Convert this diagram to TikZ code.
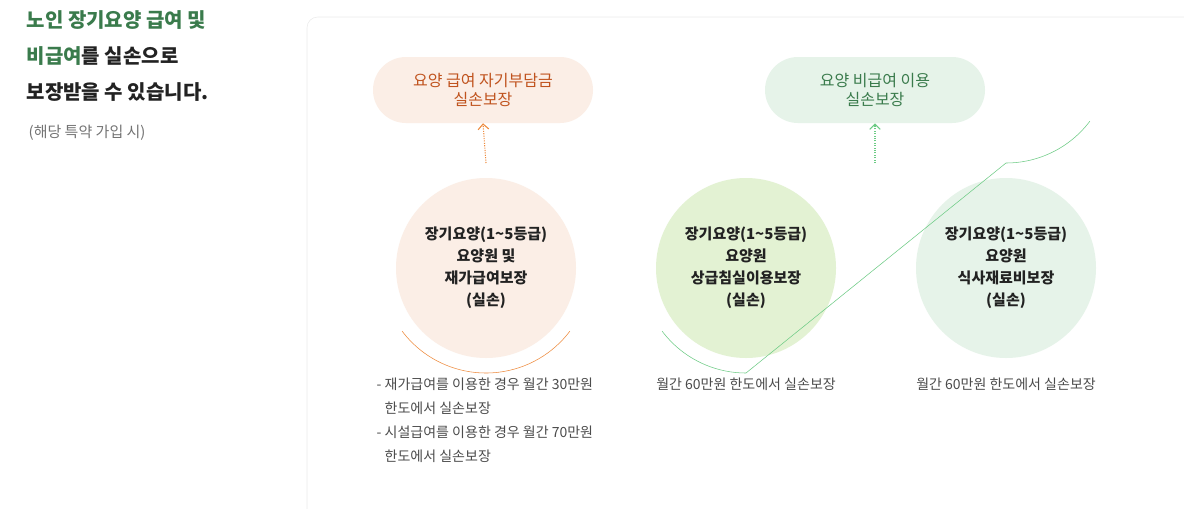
\documentclass[tikz,border=0pt]{standalone}
\usepackage{fontspec}
\setmainfont{Noto Sans CJK KR}
\usetikzlibrary{positioning, arrows.meta, calc}
\definecolor{warmfill}{HTML}{FBEEE6}
\definecolor{warmtext}{HTML}{C0531E}
\definecolor{warmline}{HTML}{EE8A3C}
\definecolor{leaffill}{HTML}{E3F2D3}
\definecolor{mintfill}{HTML}{E6F3E9}
\definecolor{mintline}{HTML}{6CCB84}
\definecolor{titlegreen}{HTML}{3A7B4C}
\definecolor{inktext}{HTML}{222222}

\begin{document}
\begin{tikzpicture}[
    x=0.75pt, y=-0.75pt,
    % Styles
    pill/.style={rounded corners=24.75pt, minimum width=165pt, minimum height=49.5pt, align=center, font=\fontsize{12}{14.5}\selectfont},
    coverage/.style={circle, minimum size=135pt, align=center, text=inktext, font=\bfseries\fontsize{11.25}{16.5}\selectfont},
    note/.style={font=\fontsize{10.5}{18}\selectfont, text=black!70},
    uparrow/.style={densely dotted, thick, -{Straight Barb[length=4pt, width=8pt]}},
]

\useasboundingbox (0,0) rectangle (1184,508);

% Heading
\node[anchor=north west, align=left, font=\bfseries\fontsize{15}{27}\selectfont, text=inktext] (title) at (22,6)
  {\textcolor{titlegreen}{노인 장기요양 급여 및}\\\textcolor{titlegreen}{비급여}를 실손으로\\보장받을 수 있습니다.};
\node[anchor=north west, font=\fontsize{11.25}{14}\selectfont, text=black!55] (sub) at (24,120) {(해당 특약 가입 시)};

% Panel
\draw[black!8, fill=white, rounded corners=8pt] (307,17) rectangle (1200,520);

% Top boxes
\node[pill, fill=warmfill, text=warmtext] (own) at (483,90) {요양 급여 자기부담금\\실손보장};
\node[pill, fill=mintfill, text=titlegreen] (non) at (875,90) {요양 비급여 이용\\실손보장};

% Circles
\node[coverage, fill=warmfill] (home) at (486,268) {장기요양(1\textasciitilde5등급)\\요양원 및\\재가급여보장\\(실손)};
\node[coverage, fill=leaffill] (room) at (746,268) {장기요양(1\textasciitilde5등급)\\요양원\\상급침실이용보장\\(실손)};
\node[coverage, fill=mintfill] (meal) at (1006,268) {장기요양(1\textasciitilde5등급)\\요양원\\식사재료비보장\\(실손)};

% Brackets
\coordinate (otop) at (486,163);
\coordinate (gtop) at (875,163);
\draw[warmline] (home.center) ++(143:105) arc[start angle=143, end angle=37, radius=105];
\draw[mintline] (room.center) ++(143:105) arc[start angle=143, end angle=90, radius=105]
  -- ($(meal.center)+(0,-105)$) arc[start angle=90, end angle=37, radius=105];
\draw[uparrow, warmline] (otop) -- (own.south);
\draw[uparrow, mintline] (gtop) -- (non.south);

% Notes
\node[note, anchor=north west, align=left] (homenote) at (372,373)
  {- 재가급여를 이용한 경우 월간 30만원\\\phantom{- }한도에서 실손보장\\- 시설급여를 이용한 경우 월간 70만원\\\phantom{- }한도에서 실손보장};
\node[note, anchor=north] (roomnote) at (746,373) {월간 60만원 한도에서 실손보장};
\node[note, anchor=north] (mealnote) at (1006,373) {월간 60만원 한도에서 실손보장};

\end{tikzpicture}
\end{document}
